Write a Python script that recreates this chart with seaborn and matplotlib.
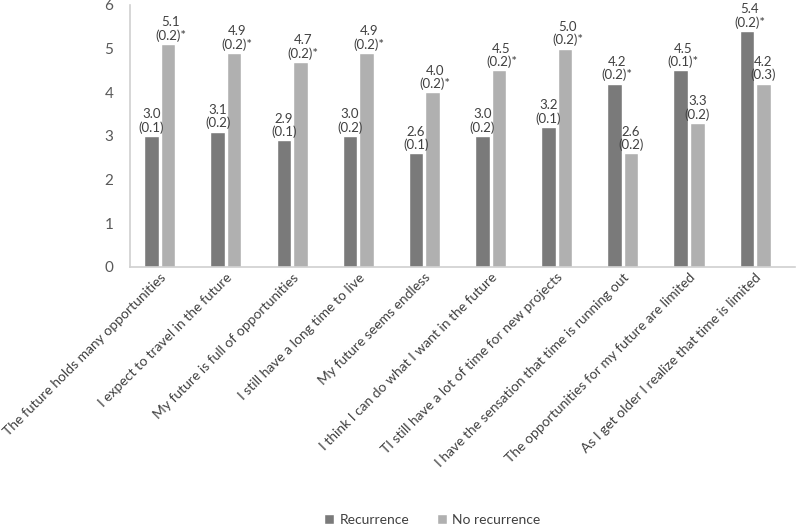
import pandas as pd
import matplotlib.pyplot as plt
import seaborn as sns

items = [
    "The future holds many opportunities",
    "I expect to travel in the future",
    "My future is full of opportunities",
    "I still have a long time to live",
    "My future seems endless",
    "I think I can do what I want in the future",
    "TI still have a lot of time for new projects",
    "I have the sensation that time is running out",
    "The opportunities for my future are limited",
    "As I get older I realize that time is limited",
]
recurrence = [3.0, 3.1, 2.9, 3.0, 2.6, 3.0, 3.2, 4.2, 4.5, 5.4]
recurrence_se = [0.1, 0.2, 0.1, 0.2, 0.1, 0.2, 0.1, 0.2, 0.1, 0.2]
recurrence_sig = [False, False, False, False, False, False, False, True, True, True]
no_recurrence = [5.1, 4.9, 4.7, 4.9, 4.0, 4.5, 5.0, 2.6, 3.3, 4.2]
no_recurrence_se = [0.2, 0.2, 0.2, 0.2, 0.2, 0.2, 0.2, 0.2, 0.2, 0.3]
no_recurrence_sig = [True, True, True, True, True, True, True, False, False, False]

groups = ["Recurrence", "No recurrence"]

df = pd.DataFrame({
    "item": items * 2,
    "group": [groups[0]] * len(items) + [groups[1]] * len(items),
    "score": recurrence + no_recurrence,
})

sns.set_style("white")
plt.rcParams["font.family"] = ["Lato", "DejaVu Sans"]

fig = plt.figure(figsize=(8, 5.24), dpi=100)
ax = fig.add_axes([0.1625, 0.4905, 0.831, 0.5])

sns.barplot(data=df, x="item", y="score", hue="group", order=items,
            hue_order=groups, palette=["#7a7a7a", "#b0b0b0"],
            width=0.5, gap=0.12, saturation=1, ax=ax)

labels = [
    (recurrence, recurrence_se, recurrence_sig),
    (no_recurrence, no_recurrence_se, no_recurrence_sig),
]
for cont, (vals, ses, sigs) in zip(ax.containers, labels):
    for bar, v, se, s in zip(cont, vals, ses, sigs):
        txt = f"{v:.1f}\n({se:.1f})" + ("*" if s else "")
        ax.text(bar.get_x() + bar.get_width() / 2 + (0.04 if s else 0),
                bar.get_height() + 0.05, txt,
                ha="center", va="bottom", fontsize=9.5, color="#404040",
                linespacing=1.1)

ax.set_ylim(0, 6)
ax.set_xlim(-0.45, 9.6)
ax.set_yticks(range(7))
ax.set_xlabel("")
ax.set_ylabel("")
ax.tick_params(axis="y", labelsize=11, colors="#595959", length=6,
               color="#d0d0d0", pad=6)
ax.tick_params(axis="x", length=0, labelsize=10, colors="#404040", pad=3)
plt.setp(ax.get_xticklabels(), rotation=45, ha="right", rotation_mode="anchor")
for side in ["top", "right"]:
    ax.spines[side].set_visible(False)
for side in ["left", "bottom"]:
    ax.spines[side].set_color("#d0d0d0")
    ax.spines[side].set_linewidth(1.2)

ax.legend(loc="lower center", bbox_to_anchor=(0.455, -1.035), ncol=2,
          frameon=False, fontsize=10, handlelength=0.7, handleheight=0.7,
          columnspacing=2.0, handletextpad=0.4,
          labelcolor="#404040")

fig.savefig("out.png", dpi=100)
